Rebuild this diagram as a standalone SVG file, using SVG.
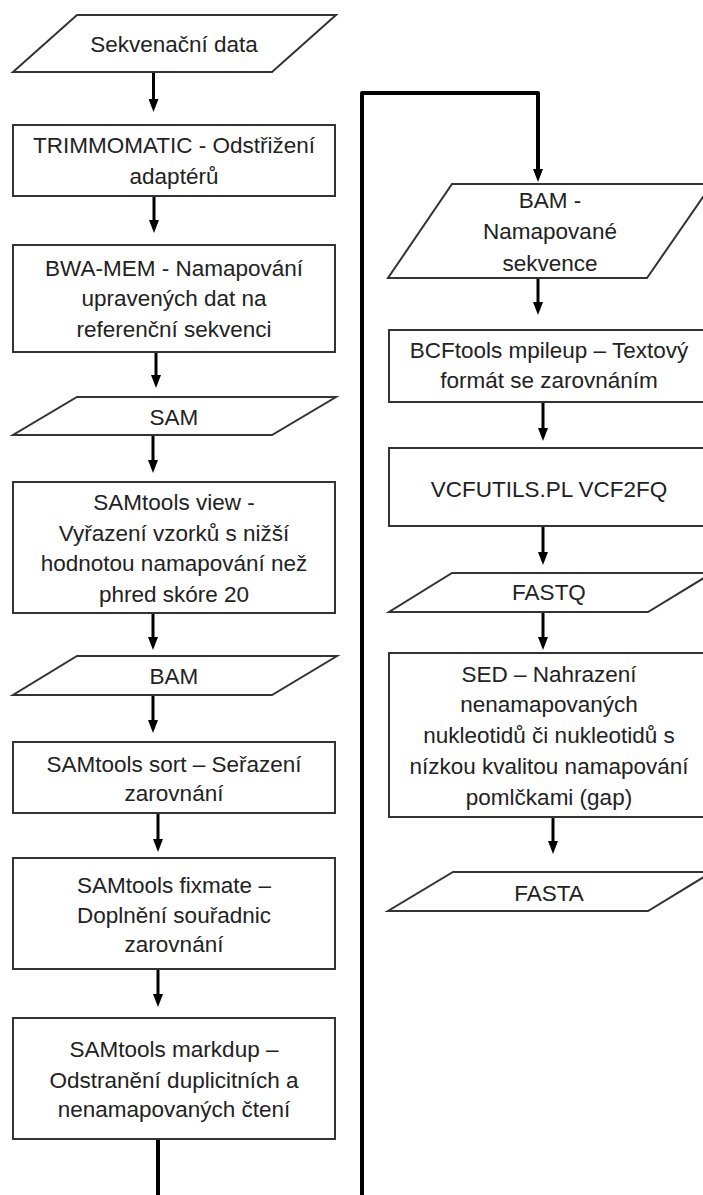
<svg xmlns="http://www.w3.org/2000/svg" width="703" height="1195" viewBox="0 0 703 1195">
<style>
  .box { fill: #ffffff; stroke: #333333; stroke-width: 2; }
  .io { fill: #ffffff; stroke: #333333; stroke-width: 2; stroke-linejoin: miter; }
  .lbl { font-family: "Liberation Sans", Arial, sans-serif; font-size: 22.5px; fill: #222222; text-anchor: middle; }
  .arr { fill: none; stroke: #000000; stroke-width: 3; }
  .loop { fill: none; stroke: #000000; stroke-width: 4; stroke-linejoin: round; }
</style>
<defs>
  <marker id="ah" viewBox="0 0 10 13" refX="5" refY="1" markerWidth="10" markerHeight="13" markerUnits="userSpaceOnUse" orient="0">
    <path d="M0,0 L10,0 L5,13 z" fill="#000000"/>
  </marker>
</defs>
<rect x="0" y="0" width="703" height="1195" fill="#ffffff"/>

<g id="connectors">
  <path class="arr" d="M153.5,72 V100" marker-end="url(#ah)"/>
  <path class="arr" d="M154,196 V221" marker-end="url(#ah)"/>
  <path class="arr" d="M156,352 V376" marker-end="url(#ah)"/>
  <path class="arr" d="M153,435 V461" marker-end="url(#ah)"/>
  <path class="arr" d="M153,613 V638" marker-end="url(#ah)"/>
  <path class="arr" d="M153,695 V721" marker-end="url(#ah)"/>
  <path class="arr" d="M158,813 V840" marker-end="url(#ah)"/>
  <path class="arr" d="M158,969 V995" marker-end="url(#ah)"/>
  <path class="loop" d="M158,1139 V1215 H362 V93 H538 V170"/>
  <path d="M533,169 L543,169 L538,182 z" fill="#000000"/>
  <path class="arr" d="M538,278 V303" marker-end="url(#ah)"/>
  <path class="arr" d="M543,402 V429" marker-end="url(#ah)"/>
  <path class="arr" d="M543,526 V553" marker-end="url(#ah)"/>
  <path class="arr" d="M543,612 V638" marker-end="url(#ah)"/>
  <path class="arr" d="M553,817 V842" marker-end="url(#ah)"/>
</g>

<g id="n1">
  <polygon class="io" points="77,15 336,15 272,72 13,72"/>
  <text class="lbl" x="174" y="52">Sekvenační data</text>
</g>
<g id="n2">
  <rect class="box" x="13" y="125" width="322" height="71"/>
  <text class="lbl" x="174" y="153">TRIMMOMATIC - Odstřižení</text>
  <text class="lbl" x="174" y="184">adaptérů</text>
</g>
<g id="n3">
  <rect class="box" x="13" y="245" width="322" height="107"/>
  <text class="lbl" x="174" y="276">BWA-MEM - Namapování</text>
  <text class="lbl" x="174" y="306">upravených dat na</text>
  <text class="lbl" x="174" y="337">referenční sekvenci</text>
</g>
<g id="n4">
  <polygon class="io" points="77,397 336,397 272,435 13,435"/>
  <text class="lbl" x="174" y="425">SAM</text>
</g>
<g id="n5">
  <rect class="box" x="13" y="482" width="322" height="131"/>
  <text class="lbl" x="174" y="510">SAMtools view -</text>
  <text class="lbl" x="174" y="541">Vyřazení vzorků s nižší</text>
  <text class="lbl" x="174" y="571">hodnotou namapování než</text>
  <text class="lbl" x="174" y="602">phred skóre 20</text>
</g>
<g id="n6">
  <polygon class="io" points="77,656 337,656 272,695 13,695"/>
  <text class="lbl" x="174" y="684">BAM</text>
</g>
<g id="n7">
  <rect class="box" x="13" y="742" width="322" height="71"/>
  <text class="lbl" x="174" y="772">SAMtools sort – Seřazení</text>
  <text class="lbl" x="174" y="801">zarovnání</text>
</g>
<g id="n8">
  <rect class="box" x="13" y="858" width="322" height="111"/>
  <text class="lbl" x="174" y="893">SAMtools fixmate –</text>
  <text class="lbl" x="174" y="923">Doplnění souřadnic</text>
  <text class="lbl" x="174" y="952">zarovnání</text>
</g>
<g id="n9">
  <rect class="box" x="13" y="1018" width="322" height="121"/>
  <text class="lbl" x="174" y="1057">SAMtools markdup –</text>
  <text class="lbl" x="174" y="1088">Odstranění duplicitních a</text>
  <text class="lbl" x="174" y="1117">nenamapovaných čtení</text>
</g>

<g id="n10">
  <polygon class="io" points="452,184 712,184 647,278 388,278"/>
  <text class="lbl" x="550" y="208">BAM -</text>
  <text class="lbl" x="550" y="239">Namapované</text>
  <text class="lbl" x="550" y="271">sekvence</text>
</g>
<g id="n11">
  <rect class="box" x="389" y="330" width="330" height="72"/>
  <text class="lbl" x="549" y="358">BCFtools mpileup – Textový</text>
  <text class="lbl" x="549" y="388">formát se zarovnáním</text>
</g>
<g id="n12">
  <rect class="box" x="389" y="448" width="330" height="78"/>
  <text class="lbl" x="549" y="497">VCFUTILS.PL VCF2FQ</text>
</g>
<g id="n13">
  <polygon class="io" points="452,573 712,573 648,612 389,612"/>
  <text class="lbl" x="549" y="600">FASTQ</text>
</g>
<g id="n14">
  <rect class="box" x="389" y="653" width="330" height="164"/>
  <text class="lbl" x="549" y="682">SED – Nahrazení</text>
  <text class="lbl" x="549" y="712">nenamapovaných</text>
  <text class="lbl" x="549" y="743">nukleotidů či nukleotidů s</text>
  <text class="lbl" x="549" y="774">nízkou kvalitou namapování</text>
  <text class="lbl" x="549" y="805">pomlčkami (gap)</text>
</g>
<g id="n15">
  <polygon class="io" points="453,872 712,872 648,911 388,911"/>
  <text class="lbl" x="549" y="901">FASTA</text>
</g>
</svg>
